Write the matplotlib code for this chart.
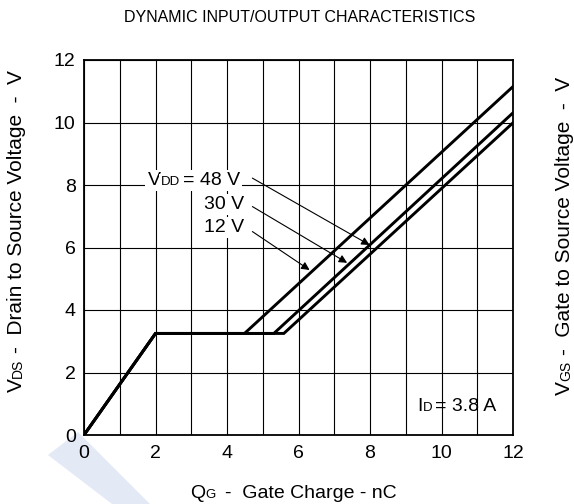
import matplotlib
matplotlib.use("Agg")
import matplotlib.pyplot as plt
from matplotlib.patches import Rectangle, Polygon
from matplotlib.transforms import IdentityTransform

plt.rcParams['font.family'] = ['Liberation Sans', 'DejaVu Sans']

# ---- data ----
vdd_labels = ["12 V", "30 V", "48 V"]
rise_q = [0, 2.0]
rise_v = [0, 3.25]
plateau_v = 3.25
plateau_end_q = [4.49, 5.31, 5.59]
end_q = 12.0
end_v = [11.15, 10.31, 9.99]

x_ticks = [0, 2, 4, 6, 8, 10, 12]
y_ticks = [0, 2, 4, 6, 8, 10, 12]

FS = 14
SUB = 9.5
LFS = 15
LSUB = 10
W, H = 574, 504
fig = plt.figure(figsize=(W / 100, H / 100), dpi=100)
R = fig.canvas.get_renderer()

# faint watermark band
fig.patches.append(Polygon([(48 / W, 1 - 455 / H), (78 / W, 1 - 432 / H),
                            (150 / W, 0), (112 / W, 0)],
                           closed=True, transform=fig.transFigure,
                           facecolor='#e4e9f6', edgecolor='none', zorder=-5))

ax = fig.add_axes([84 / W, (H - 435) / H, 429 / W, 375 / H])
ax.set_xlim(0, 12)
ax.set_ylim(0, 12)
ax.set_xticks(x_ticks)
ax.set_yticks(y_ticks)
ax.set_xticks(range(0, 13), minor=True)
ax.tick_params(axis='both', which='both', length=0, labelsize=FS)
ax.tick_params(axis='x', pad=7)
ax.tick_params(axis='y', pad=6)
ax.grid(True, which='major', axis='y', color='black', lw=0.8, zorder=1)
ax.grid(True, which='both', axis='x', color='black', lw=0.8, zorder=1)
for s in ax.spines.values():
    s.set_linewidth(1.3)
    s.set_zorder(5)


def rich(pieces, x, y, rotation=0, white=False):
    """Draw text pieces [(text, size, gap_after_px)] on a shared baseline
    starting at display pixel (x, y)."""
    pos = 0.0
    for txt, size, gap in pieces:
        if rotation == 0:
            xy = (x + pos, y)
        else:
            xy = (x, y + pos)
        kw = {}
        if white:
            kw['bbox'] = dict(facecolor='white', edgecolor='none', pad=1.5)
        t = fig.text(xy[0], xy[1], txt, fontsize=size,
                     transform=IdentityTransform(), rotation=rotation,
                     rotation_mode='anchor', ha='left', va='baseline',
                     zorder=6, **kw)
        bb = t.get_window_extent(R)
        pos += (bb.width if rotation == 0 else bb.height) + gap


# white box for ID label (covers grid in lower-right corner)
ax.add_patch(Rectangle((9.03, 0.02), 2.95, 1.96, facecolor='white',
                       edgecolor='none', zorder=1.5))

# curves
for pe, ev in zip(plateau_end_q, end_v):
    xs = rise_q + [pe, end_q]
    ys = rise_v + [plateau_v, ev]
    ax.plot(xs, ys, color='black', lw=2.1, zorder=3, solid_joinstyle='miter')

fig.canvas.draw()


def d2px(x, y):
    return ax.transData.transform((x, y))


# labels with arrows
arrow_start = [(4.71, 6.51), (4.71, 7.31), (4.71, 8.22)]
arrow_end = [(6.31, 5.28), (7.36, 5.51), (7.99, 6.08)]
for st, en in zip(arrow_start, arrow_end):
    ax.annotate("", xy=en, xytext=st,
                arrowprops=dict(arrowstyle='-|>', color='black', lw=0.8,
                                mutation_scale=12, shrinkA=0, shrinkB=0),
                zorder=4)

for txt, yy in zip(["12 V", "30 V"], [6.50, 7.23]):
    p = d2px(4.49, yy)
    fig.text(p[0], p[1], txt, fontsize=FS, ha='right', va='baseline',
             transform=IdentityTransform(), zorder=6,
             bbox=dict(facecolor='white', edgecolor='none', pad=1.5))
p = d2px(1.78, 7.99)
rich([("V", FS, 0), ("DD", SUB, 3), ("= 48 V", FS, 0)], p[0], p[1], white=True)

p = d2px(9.32, 0.78)
rich([("I", FS, 0), ("D", SUB, 3), ("= 3.8 A", FS, 0)], p[0], p[1])

fig.text(300 / W, 1 - 18 / H, "DYNAMIC INPUT/OUTPUT CHARACTERISTICS",
         ha='center', va='center', fontsize=11.5)

rich([("Q", FS, 0), ("G", SUB, 10), ("-  Gate Charge - nC", FS, 0)], 190, H - 498)
rich([("V", LFS, 0), ("DS", LSUB, 6), ("-  Drain to Source Voltage  -  V", LFS, 0)],
     22, H - 392, rotation=90)
rich([("V", LFS, 0), ("GS", LSUB, 6), ("-  Gate to Source Voltage  -  V", LFS, 0)],
     570, H - 395, rotation=90)

fig.savefig("out.png", dpi=100)
